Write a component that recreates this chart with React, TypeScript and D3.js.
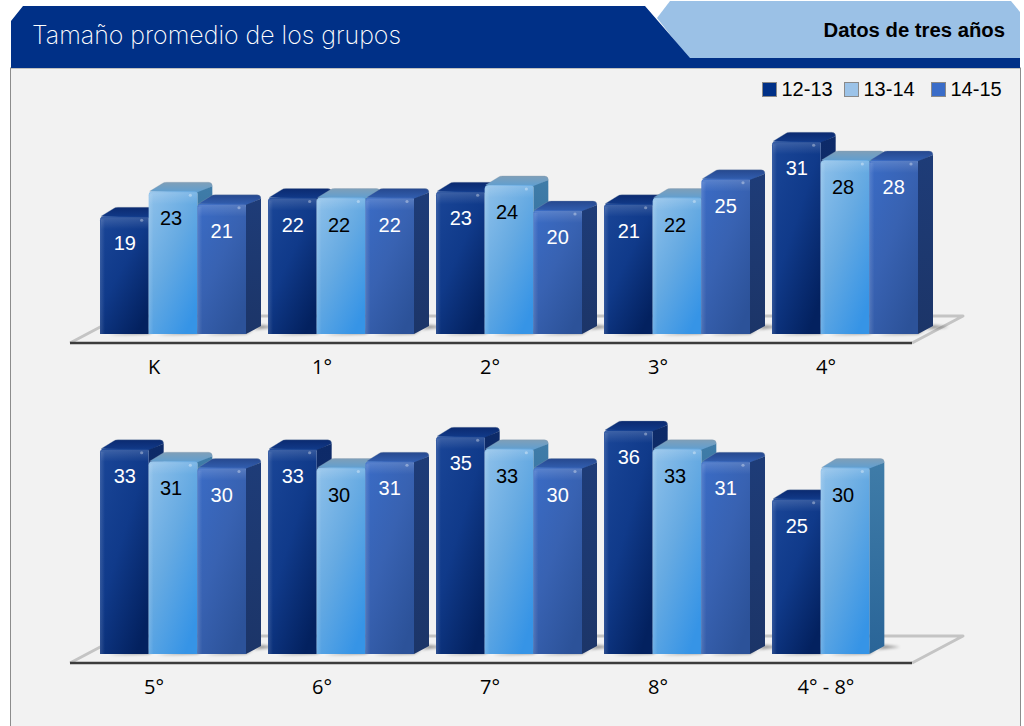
import React from "react";
import * as d3 from "d3";

const categories = ["K", "1°", "2°", "3°", "4°", "5°", "6°", "7°", "8°", "4° - 8°"];
const seriesNames = ["12-13", "13-14", "14-15"];
const values1213 = [19, 22, 23, 21, 31, 33, 33, 35, 36, 25];
const values1314 = [23, 22, 24, 22, 28, 31, 30, 33, 33, 30];
const values1415: (number | null)[] = [21, 22, 20, 25, 28, 30, 31, 30, 31, null];
const titleText = "Tamaño promedio de los grupos";
const tabText = "Datos de tres años";

const allSeries = [values1213, values1314, values1415];
const swatch = ["#003087", "#9cc3e8", "#3a6cc8"];
const sideFill = ["url(#side0)", "url(#side1)", "url(#side2)"];
const topFill = ["url(#top0)", "url(#top1)", "url(#top2)"];
const labelFill = ["#fff", "#000", "#fff"];
const labelShift = [0.5, -2, 0];

const DX = 15;
const DY = 8;
const rows = [categories.slice(0, 5), categories.slice(5)];
const baselines = [334, 654];

const x0 = d3.scaleBand<string>().domain(d3.range(5).map(String)).range([100, 940]);
const x1 = d3.scaleBand<string>().domain(seriesNames).range([0, 146]);
const h = d3.scaleLinear().domain([0, 36]).range([0, 225]);

const panelFill = "#f2f2f2";

function Grad({ id, x2 = 0, y2 = 1, stops }: { id: string; x2?: number; y2?: number; stops: [number, string][] }) {
  return (
    <linearGradient id={id} x1="0" y1="0" x2={x2} y2={y2}>
      {stops.map(([o, c]) => <stop key={o} offset={o} stopColor={c} />)}
    </linearGradient>
  );
}

export default function App() {
  return (
    <svg width={1024} height={726} style={{ position: "absolute", left: 0, top: 0, background: "#fff" }}>
      <defs>
        <Grad id="front0" x2={0.75} y2={1} stops={[[0, "#1a4698"], [0.5, "#103a8a"], [1, "#03215f"]]} />
        <Grad id="front1" x2={0.75} y2={1} stops={[[0, "#8fc1ea"], [0.5, "#66aae2"], [1, "#3694e6"]]} />
        <Grad id="front2" x2={0.75} y2={1} stops={[[0, "#3a6cc6"], [0.5, "#3862b2"], [1, "#2c5299"]]} />
        <Grad id="side0" stops={[[0, "#0d2a68"], [1, "#12306e"]]} />
        <Grad id="side1" stops={[[0, "#3f7ca8"], [1, "#2a6598"]]} />
        <Grad id="side2" stops={[[0, "#1e3c78"], [1, "#1c3568"]]} />
        <Grad id="top0" stops={[[0, "#0b2a70"], [1, "#123c8c"]]} />
        <Grad id="top1" stops={[[0, "#7f9fb8"], [1, "#5c9fd4"]]} />
        <Grad id="top2" stops={[[0, "#26488e"], [1, "#3361b4"]]} />
        <linearGradient id="gloss" x1="0" y1="0" x2="0" y2="1">
          <stop offset="0" stopColor="#fff" stopOpacity={0.16} />
          <stop offset="1" stopColor="#fff" stopOpacity={0} />
        </linearGradient>
        <linearGradient id="edge" x1="0" y1="0" x2="1" y2="0">
          <stop offset="0" stopColor="#fff" stopOpacity={0.14} />
          <stop offset="1" stopColor="#fff" stopOpacity={0} />
        </linearGradient>
        <filter id="blur" x="-30%" y="-100%" width="160%" height="300%">
          <feGaussianBlur stdDeviation="1.5" />
        </filter>
      </defs>

      <rect x={10.5} y={68} width={1010} height={670} fill={panelFill} stroke="#8c8c8c" strokeWidth={1} />
      <polygon points="657,18 670,1 1011,1 1020,12 1020,60 690,60" fill="#9bc1e6" />
      <polygon points="11,21 23,6 645,6 690,58 1020,58 1020,68 11,68" fill="#003087" />
      <text x={32} y={44} fontFamily="Inter, sans-serif" fontWeight={200} fontSize={25} fill="#fff" textLength={369} lengthAdjust="spacingAndGlyphs">{titleText}</text>
      <text x={1005} y={37} textAnchor="end" fontFamily="Liberation Sans, sans-serif" fontWeight={700} fontSize={20.3} fill="#000">{tabText}</text>

      {seriesNames.map((name, i) => {
        const sx = [762, 844, 931][i];
        return (
          <g key={name}>
            <rect x={sx + 0.5} y={82.5} width={14} height={14} fill={swatch[i]} stroke="#8a8a8a" />
            <text x={sx + 19.5} y={96} fontFamily="Liberation Sans, sans-serif" fontSize={20} fill="#000">{name}</text>
          </g>
        );
      })}

      {rows.map((row, r) => {
        const base = baselines[r];
        const floorY = base + 9;
        return (
          <g key={r}>
            <polygon points={`70,${floorY} 912,${floorY} 963,${base - 18} 121,${base - 18}`} fill={panelFill} />
            <polyline points={`70,${floorY} 121,${base - 18} 963,${base - 18} 912,${floorY}`} fill="none" stroke="#c4c4c4" strokeWidth={3} strokeLinejoin="round" />
            <line x1={70} x2={912} y1={floorY} y2={floorY} stroke="#3c3c3c" strokeWidth={2.5} />
            {row.map((cat, c) => {
              const gi = r * 5 + c;
              const gx = x0(String(c))!;
              return (
                <g key={cat}>
                  {allSeries.map((series, s) => {
                    const v = series[gi];
                    if (v == null) return null;
                    const bx = gx + x1(seriesNames[s])!;
                    const w = x1.bandwidth();
                    const bh = h(v);
                    const ty = base - bh + 1;
                    return (
                      <g key={s}>
                        <polygon points={`${bx + 8},${base + 1} ${bx + w + DX + 16},${base - DY + 1} ${bx + w + DX},${base - DY - 1} ${bx + w},${base}`} fill="#000" opacity={0.4} filter="url(#blur)" />
                        <path d={`M${bx + 1},${ty} L${bx + DX - 1},${ty - DY} Q${bx + DX},${ty - DY - 1} ${bx + DX + 3},${ty - DY - 1} L${bx + w + DX - 4},${ty - DY - 1} Q${bx + w + DX},${ty - DY - 1} ${bx + w + DX},${ty - DY + 3} L${bx + w},${ty + 2} Z`} fill={topFill[s]} stroke="#8a9bb0" strokeOpacity={0.45} strokeWidth={0.7} />
                        <polygon points={`${bx + w},${ty + 1} ${bx + w + DX},${ty - DY + 3} ${bx + w + DX},${base - DY} ${bx + w},${base}`} fill={sideFill[s]} />
                        <path d={`M${bx},${base} L${bx},${ty + 4} Q${bx},${ty} ${bx + 4},${ty} L${bx + w - 3},${ty} Q${bx + w},${ty} ${bx + w},${ty + 3} L${bx + w},${base} Z`} fill={`url(#front${s})`} />
                        <rect x={bx + 1} y={ty + 1} width={w - 1} height={Math.min(12, bh)} fill="url(#gloss)" />
                        <rect x={bx} y={ty + 3} width={5} height={bh - 4} fill="url(#edge)" />
                        <circle cx={bx + w - 7} cy={ty + 4} r={1.6} fill="#fff" opacity={0.35} />
                        <text x={bx + w / 2 + labelShift[s]} y={ty + 34} textAnchor="middle" fontFamily="Liberation Sans, sans-serif" fontSize={20} fill={labelFill[s]}>{v}</text>
                      </g>
                    );
                  })}
                  <text x={gx + 54} y={base + 40} textAnchor="middle" fontFamily="Open Sans, sans-serif" fontSize={20} fill="#000">{cat}</text>
                </g>
              );
            })}
          </g>
        );
      })}
    </svg>
  );
}
